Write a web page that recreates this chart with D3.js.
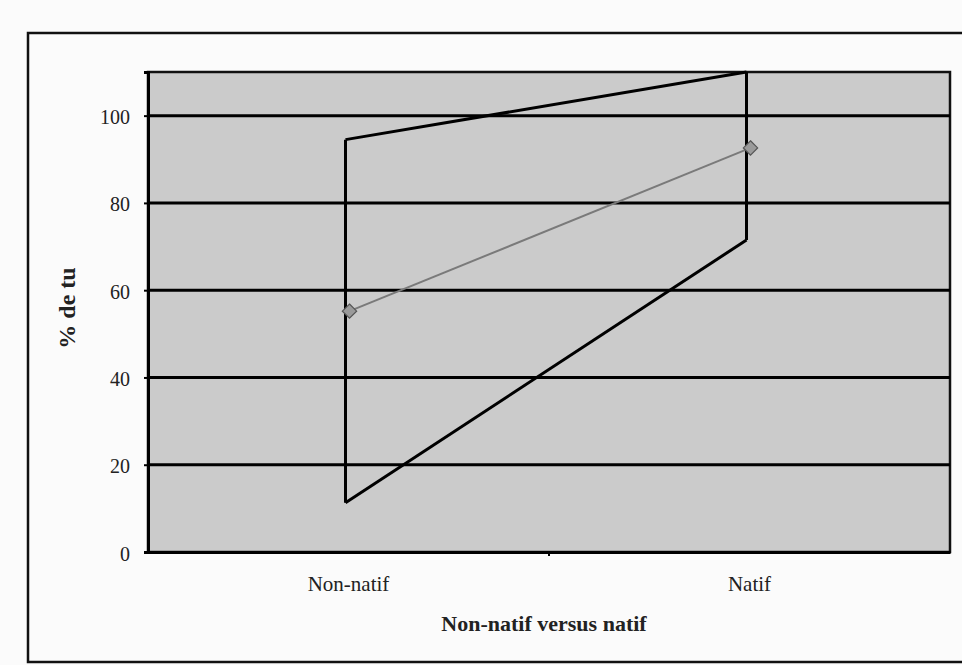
<!DOCTYPE html>
<html><head><meta charset="utf-8">
<script src="https://cdn.jsdelivr.net/npm/d3@7"></script>
<style>body{margin:0;background:#fbfbfb;} text{font-family:"Liberation Serif","Times New Roman",serif;fill:#222;}</style>
</head><body><svg id="c" width="962" height="665"></svg>
<script>
const categories = ["Non-natif", "Natif"];
const upperValues = [94.5, 110];
const lowerValues = [11.3, 71.5];
const meanValues = [55.2, 92.6];
const yTicks = [0, 20, 40, 60, 80, 100];
const yMax = 110;
const xTitle = "Non-natif versus natif";
const yTitle = "% de tu";

const svg = d3.select("#c");
const m = {l:148, r:950, t:72, b:552};

// outer frame
svg.append("rect").attr("x",28).attr("y",33).attr("width",940).attr("height",629)
  .attr("fill","#fbfbfb").attr("stroke","#111").attr("stroke-width",2.5);

const x = d3.scaleBand().domain(categories).range([m.l, m.r]);
const y = d3.scaleLinear().domain([0, yMax]).range([m.b, m.t]);

svg.append("rect").attr("x",m.l).attr("y",m.t).attr("width",m.r-m.l).attr("height",m.b-m.t)
  .attr("fill","#cbcbcb").attr("stroke","#111").attr("stroke-width",2.5);

// gridlines
svg.append("g").selectAll("line").data(yTicks.filter(d=>d>0)).join("line")
  .attr("x1",m.l).attr("x2",m.r).attr("y1",d=>y(d)).attr("y2",d=>y(d))
  .attr("stroke","#000").attr("stroke-width",3);

// y axis
const ya = svg.append("g").attr("transform",`translate(${m.l},0)`)
  .call(d3.axisLeft(y).tickValues(yTicks).tickSize(4).tickPadding(14));
ya.select(".domain").attr("stroke","#000").attr("stroke-width",3);
ya.selectAll(".tick line").attr("stroke","#000").attr("stroke-width",2);
ya.selectAll("text").attr("font-size",20).attr("fill","#222").attr("dy","0.4em").style("font-family","Liberation Serif");

// x axis
const xa = svg.append("g").attr("transform",`translate(0,${m.b})`)
  .call(d3.axisBottom(x).tickSize(0).tickPadding(24));
xa.select(".domain").attr("stroke","#000").attr("stroke-width",3);
xa.selectAll("text").attr("font-size",21).attr("fill","#222").style("font-family","Liberation Serif");
// ticks at band boundaries
svg.append("g").selectAll("line").data(categories.slice(1)).join("line")
  .attr("x1",d=>x(d)).attr("x2",d=>x(d)).attr("y1",m.b).attr("y2",m.b+4)
  .attr("stroke","#000").attr("stroke-width",2);

const cx = d => x(d) + x.bandwidth()/2;
// high-low range: verticals
svg.append("g").selectAll("line").data(categories).join("line")
  .attr("x1",(d)=>cx(d)-3).attr("x2",(d)=>cx(d)-3)
  .attr("y1",(d,i)=>y(lowerValues[i])).attr("y2",(d,i)=>y(upperValues[i]))
  .attr("stroke","#000").attr("stroke-width",3);
const lineGen = d3.line().x(d=>cx(d.c)-3).y(d=>y(d.v));
svg.append("path").datum(categories.map((c,i)=>({c,v:upperValues[i]})))
  .attr("d",lineGen).attr("fill","none").attr("stroke","#000").attr("stroke-width",3);
svg.append("path").datum(categories.map((c,i)=>({c,v:lowerValues[i]})))
  .attr("d",lineGen).attr("fill","none").attr("stroke","#000").attr("stroke-width",3);

// mean line
const meanPts = categories.map((c,i)=>({c,v:meanValues[i]}));
svg.append("path").datum(meanPts)
  .attr("d",d3.line().x(d=>cx(d.c)+1).y(d=>y(d.v))).attr("fill","none").attr("stroke","#7a7a7a").attr("stroke-width",2);
svg.append("g").selectAll("path").data(meanPts).join("path")
  .attr("transform",d=>`translate(${cx(d.c)+1},${y(d.v)})`)
  .attr("d",d3.symbol(d3.symbolDiamond2,130))
  .attr("fill","#9a9a9a").attr("stroke","#555").attr("stroke-width",1.2);

// titles
svg.append("text").attr("x",544).attr("y",631).attr("text-anchor","middle")
  .attr("font-size",22).attr("font-weight","bold").text(xTitle);
svg.append("text").attr("transform",`translate(75,308) rotate(-90)`)
  .attr("text-anchor","middle").attr("font-size",24).attr("font-weight","bold").text(yTitle);
</script></body></html>
